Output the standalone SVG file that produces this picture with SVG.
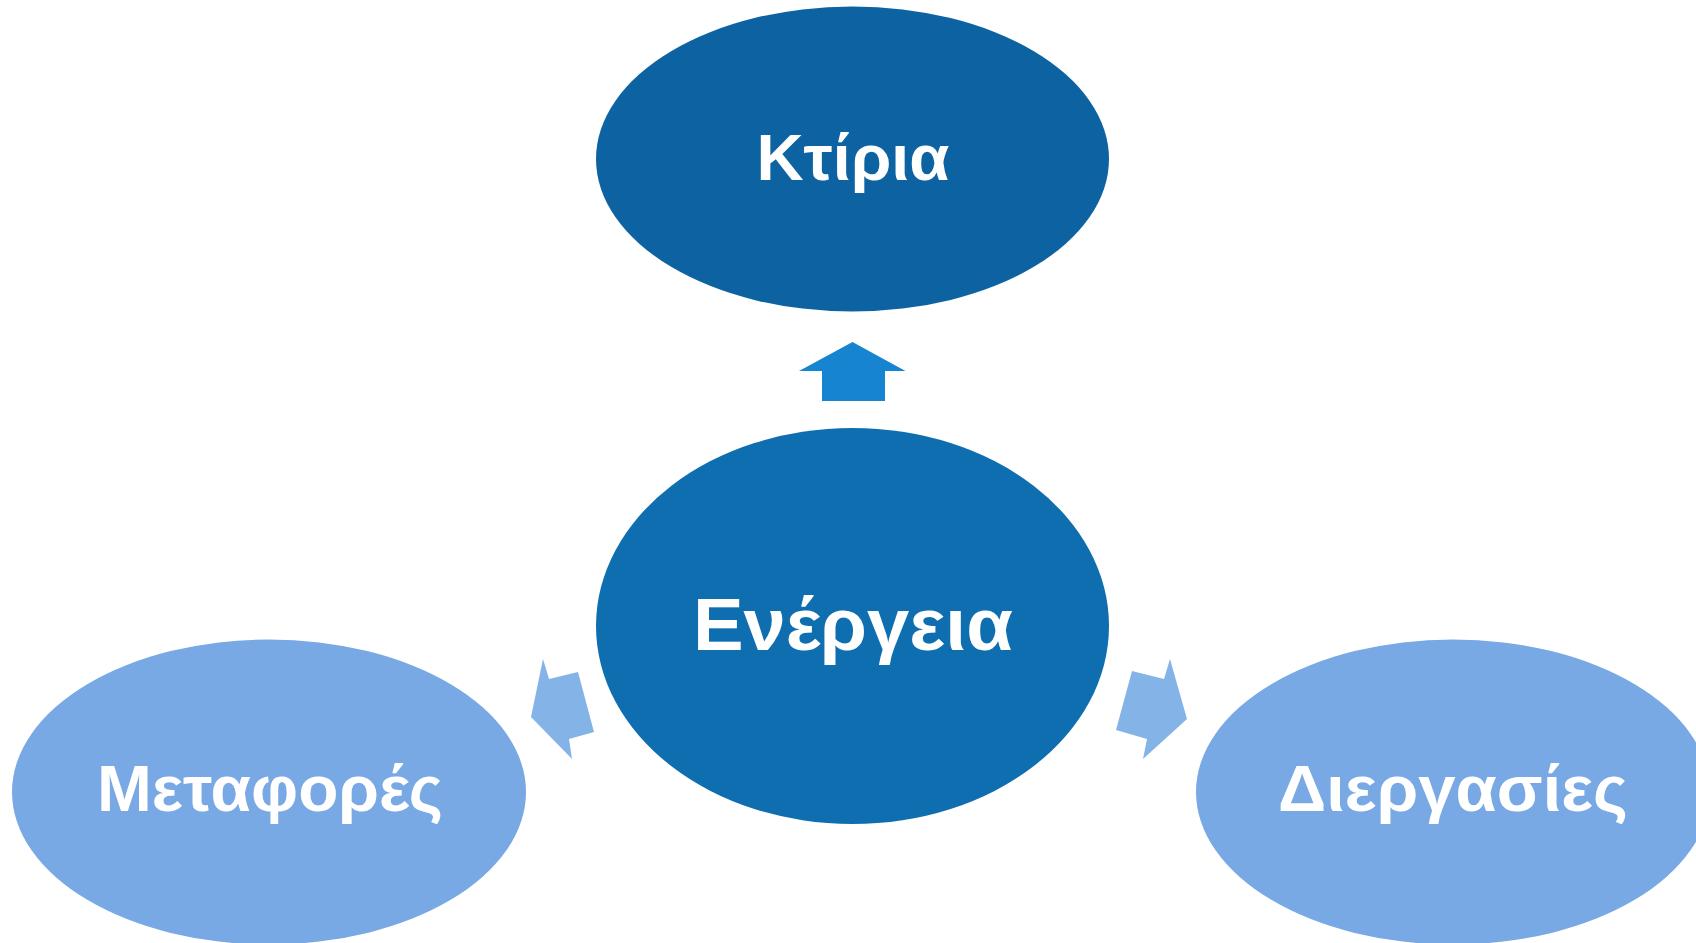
<svg xmlns="http://www.w3.org/2000/svg" width="1696" height="943" viewBox="0 0 1696 943">
<style>
.lbl{font-family:"Liberation Sans",Arial,sans-serif;font-weight:bold;fill:#ffffff;text-anchor:middle}
</style>
<rect width="1696" height="943" fill="#ffffff"/>
<g id="connectors">
<polygon points="852.5,342 905.5,371 885,371 885,401 822,401 822,371 799,371" fill="#1784D2"/>
<polygon points="531,717 543,659 549,679 578,672 594,732 569,739 572,759" fill="#84B3E8"/>
<polygon points="1187,719 1170,659 1164,679 1132,671 1116,730 1147,739 1143,759" fill="#84B3E8"/>
</g>
<g id="node-ktiria">
<ellipse cx="852.5" cy="159" rx="256.5" ry="152.5" fill="#0D63A1"/>
<text class="lbl" x="853" y="179.5" font-size="65" textLength="193" lengthAdjust="spacingAndGlyphs">Κτίρια</text>
</g>
<g id="node-energeia">
<ellipse cx="852.5" cy="626" rx="256.5" ry="198" fill="#0F6EB0"/>
<text class="lbl" x="853" y="650" font-size="75" textLength="320" lengthAdjust="spacingAndGlyphs">Ενέργεια</text>
</g>
<g id="node-metafores">
<ellipse cx="269" cy="792" rx="257" ry="152.5" fill="#78A9E4"/>
<text class="lbl" x="270" y="811" font-size="64" textLength="346" lengthAdjust="spacingAndGlyphs">Μεταφορές</text>
</g>
<g id="node-diergasies">
<ellipse cx="1453" cy="792" rx="257" ry="152.5" fill="#78A9E4"/>
<text class="lbl" x="1453" y="811" font-size="64" textLength="350" lengthAdjust="spacingAndGlyphs">Διεργασίες</text>
</g>
</svg>
